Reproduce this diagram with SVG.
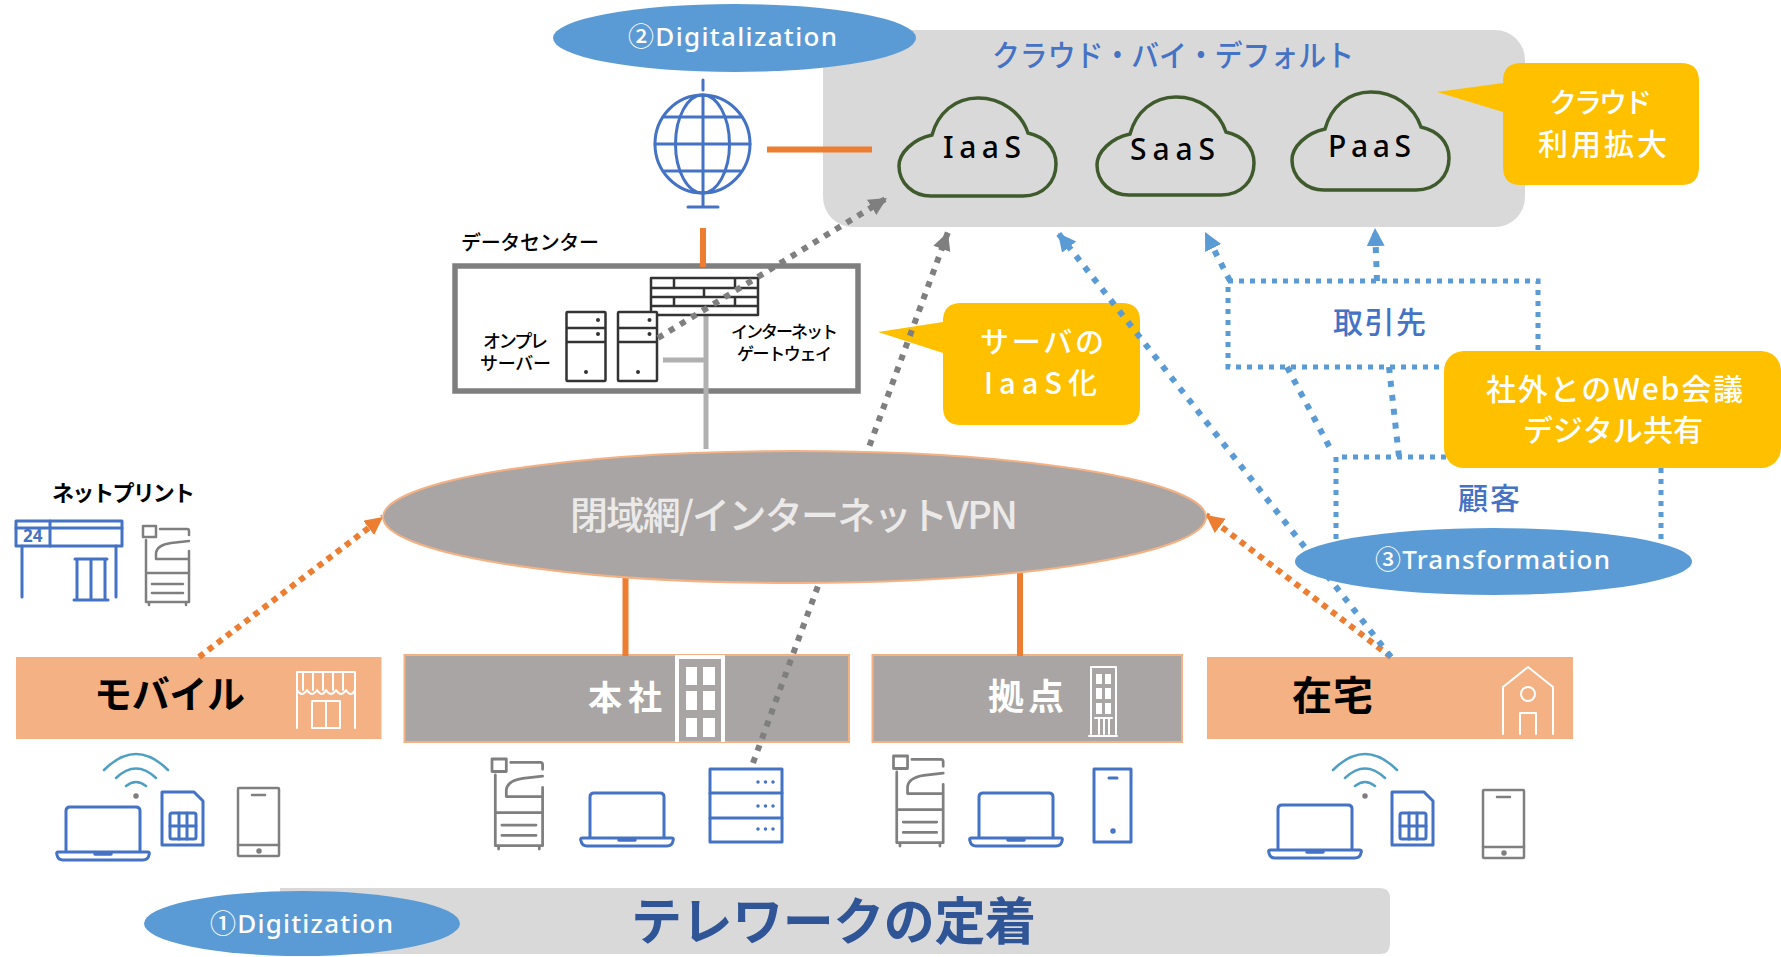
<svg xmlns="http://www.w3.org/2000/svg" xmlns:xlink="http://www.w3.org/1999/xlink" width="1781" height="957" viewBox="0 0 1781 957">
<style>
text{font-family:"Noto Sans CJK JP","Noto Sans",sans-serif;}
.lat{font-family:"Noto Sans","Noto Sans CJK JP",sans-serif;}
.wh{fill:#fff}.bk{fill:#000}.bl{fill:#4472c4}
.b{font-weight:700}.m{font-weight:500}
.ln{fill:none;stroke-linecap:round;stroke-linejoin:round}
.blue{stroke:#4472c4;stroke-width:3}
.gray{stroke:#7f7f7f;stroke-width:2.5}
.white{stroke:#fff;stroke-width:2}
.dk{stroke:#333;stroke-width:2.5;fill:#fff;stroke-linejoin:round}
.cloud{fill:#d9d9d9;stroke:#3f5a2c;stroke-width:3.5}
.cal{fill:#ffc000}
.oval{fill:#5b9bd5}
.bar-o{fill:#f4b183}
.bar-g{fill:#a9a5a4;stroke:#f4b183;stroke-width:2}
.solid-o{stroke:#ed7d31;stroke-width:6;fill:none}
.solid-g{stroke:#b0b0b0;stroke-width:5;fill:none}
.dot-g{stroke:#7f7f7f;stroke-width:6;stroke-dasharray:6 7;fill:none}
.dot-o{stroke:#ed7d31;stroke-width:6;stroke-dasharray:6 5.5;fill:none}
.dot-b{stroke:#5b9bd5;stroke-width:6;stroke-dasharray:6 8;fill:none}
.dot-c{stroke:#5b9bd5;stroke-width:5;stroke-dasharray:5 6;fill:none}
</style>
<defs>
<marker id="ag" markerUnits="userSpaceOnUse" markerWidth="20" markerHeight="20" refX="18" refY="9" orient="auto"><path d="M0 0L18 9L0 18Z" fill="#7f7f7f"/></marker>
<marker id="ao" markerUnits="userSpaceOnUse" markerWidth="20" markerHeight="20" refX="18" refY="9" orient="auto"><path d="M0 0L18 9L0 18Z" fill="#ed7d31"/></marker>
<marker id="ab" markerUnits="userSpaceOnUse" markerWidth="20" markerHeight="20" refX="18" refY="9" orient="auto"><path d="M0 0L18 9L0 18Z" fill="#5b9bd5"/></marker>
<path id="cloudp" d="M32 98H124C145 98 157 83 157 66C157 50 146 39 129 35C122 14 102 0 79 0C56 0 39 15 33 37C14 41 0 55 0 68C0 85 14 98 32 98Z"/>
<g id="laptop" class="ln blue"><path d="M11 45V5Q11 1 15 1H81Q85 1 85 5V45"/><path d="M3 46H93Q95 46 94 49Q93 54 88 54H8Q3 54 2 49Q1 46 3 46Z"/><path d="M40 48H56" stroke-width="3.5"/></g>
<g id="copier" class="ln gray"><rect x="0" y="0" width="13" height="11"/><path d="M17 3H44Q46 3 46 5V9M3 14V76H46V25M46 15L28 17Q14 19 13 27V33H46M3 47H46M9 58H40M9 67H40M6 76V79M43 76V79"/></g>
<g id="wifi" class="ln" style="stroke:#4f9fc4;stroke-width:2.5"><path d="M-32 16Q0 -16 32 16M-20 24Q0 5 20 24M-10 32Q0 24 10 32"/><circle cx="0" cy="42" r="1.5" fill="#7f7f7f" stroke="#7f7f7f"/></g>
<g id="sim" class="ln blue"><path d="M1 1H33L42 10V54H1Z"/><rect x="9" y="22" width="26" height="26" rx="2"/><path d="M9 35H35M18 22V48M26 22V35M26 35V48"/></g>
<g id="phone" class="ln gray"><rect x="0" y="0" width="41" height="68" rx="1"/><path d="M14 7H27M0 57H41"/><circle cx="21" cy="63" r="1.5" fill="#7f7f7f"/></g>
</defs>

<g id="cloud-panel"><rect x="823" y="30" width="702" height="197" rx="30" fill="#d9d9d9"/>
<text x="992" y="66" font-size="30" class="bl m" textLength="362" lengthAdjust="spacingAndGlyphs">クラウド・バイ・デフォルト</text></g>
<g id="iaas"><use xlink:href="#cloudp" href="#cloudp" class="cloud" x="899" y="98"/><text x="943" y="158" font-size="30" class="lat bk m" textLength="78">IaaS</text></g>
<g id="saas"><use xlink:href="#cloudp" href="#cloudp" class="cloud" x="1097" y="97"/><text x="1130" y="160" font-size="30" class="lat bk m" textLength="85">SaaS</text></g>
<g id="paas"><use xlink:href="#cloudp" href="#cloudp" class="cloud" x="1292" y="92"/><text x="1328" y="157" font-size="30" class="lat bk m" textLength="83">PaaS</text></g>

<g id="digitalization"><ellipse cx="734.5" cy="38" rx="181.5" ry="34" class="oval"/><text x="628" y="46" font-size="26" class="lat wh m" textLength="209">②Digitalization</text></g>

<g id="callout-cloud"><path class="cal" d="M1521 63H1681Q1699 63 1699 81V167Q1699 185 1681 185H1521Q1503 185 1503 167V112L1437 92L1503 83V81Q1503 63 1521 63Z"/>
<text x="1549" y="113" font-size="28" class="wh m" textLength="103">クラウド</text><text x="1538" y="155" font-size="30" class="wh m" textLength="129">利用拡大</text></g>

<g id="globe" class="ln blue"><ellipse cx="702.5" cy="144" rx="47.5" ry="49"/><ellipse cx="702.5" cy="144" rx="27" ry="49"/><path d="M703 95V193M655 144H750M664 117H741M664 171H741M703 80V90M703 193V207M688 207H718"/></g>

<g id="datacenter">
<text x="461" y="250" font-size="20" class="bk m" textLength="138">データセンター</text>
<rect x="455" y="266" width="403" height="125" fill="#fff" stroke="#7f7f7f" stroke-width="5.5"/>
<path class="solid-g" d="M706 315V449M663 360H706"/>
<g id="firewall"><rect x="651" y="278" width="107" height="37" class="dk"/><path class="dk" d="M651 288H758M651 297H758M651 306H758M674 278V288M735 278V288M704 288V297M674 297V306M735 297V306"/></g>
<g id="server-a"><rect x="566.5" y="312" width="39" height="69" rx="1" class="dk"/><path class="dk" d="M566.5 328H605.5M566.5 342H605.5"/><circle cx="598" cy="320" r="2" fill="#333"/><circle cx="598" cy="334" r="2" fill="#333"/><circle cx="586" cy="372" r="2" fill="#333"/></g>
<g id="server-b"><rect x="618" y="312" width="39" height="69" rx="1" class="dk"/><path class="dk" d="M618 328H657M618 342H657"/><circle cx="649.500" cy="320" r="2" fill="#333"/><circle cx="649.500" cy="334" r="2" fill="#333"/><circle cx="638" cy="372" r="2" fill="#333"/></g>
<text x="483" y="348" font-size="18" class="bk m" textLength="65">オンプレ</text>
<text x="480" y="370" font-size="18" class="bk m" textLength="71">サーバー</text>
<text x="731" y="338" font-size="17" class="bk m" textLength="107">インターネット</text>
<text x="737" y="360" font-size="17" class="bk m" textLength="95">ゲートウェイ</text>
</g>

<g id="callout-iaas"><path class="cal" d="M961 303H1122Q1140 303 1140 321V407Q1140 425 1122 425H961Q943 425 943 407V353L878 332L943 322V321Q943 303 961 303Z"/>
<text x="980" y="353" font-size="29" class="wh m" textLength="124">サーバの</text><text x="984" y="394" font-size="29" class="wh m" textLength="113">IaaS化</text></g>

<g id="netprint">
<text x="52" y="501" font-size="22" class="bk b" textLength="143">ネットプリント</text>
<g class="ln blue"><rect x="16" y="521" width="106" height="25"/><path d="M16 528H122M50 521V546M22 546V597M116 546V597M75 559H107M77 559V598M91 559V598M105 559V598M74 600H108"/></g>
<text x="23" y="542" font-size="17" class="lat bl b">24</text>
<use xlink:href="#copier" href="#copier" transform="translate(143 526)"/>
</g>

<g id="mobile"><rect x="16" y="657" width="365.500" height="82" class="bar-o"/><text x="94" y="708" font-size="38" class="bk b" textLength="151">モバイル</text>
<g class="ln white"><path d="M297 672H355M297 672V728M355 672V728M297 690Q302 698 307 690Q312 698 317 690Q322 698 326 690Q331 698 336 690Q341 698 346 690Q351 698 355 690M303 672V690M313 672V690M323 672V690M333 672V690M343 672V690M312 701H340V728H312ZM326 701V728"/></g>
<use xlink:href="#laptop" href="#laptop" transform="translate(55 806)"/>
<use xlink:href="#wifi" href="#wifi" transform="translate(136 754)"/>
<use xlink:href="#sim" href="#sim" transform="translate(161 791)"/>
<use xlink:href="#phone" href="#phone" transform="translate(238 788)"/>
</g>

<g id="headoffice"><rect x="404.500" y="655" width="444.500" height="87" class="bar-g"/><text x="588" y="710" font-size="34" class="wh b" textLength="74">本社</text>
<path d="M675 655H725V742H721V659H679V742H675Z" fill="#fff"/>
<g fill="#fff"><rect x="686" y="667" width="11" height="18"/><rect x="703" y="667" width="12" height="18"/><rect x="686" y="691" width="11" height="19"/><rect x="703" y="691" width="12" height="19"/><rect x="686" y="718" width="11" height="19"/><rect x="703" y="718" width="12" height="19"/></g>
<use xlink:href="#copier" href="#copier" transform="translate(492 759) scale(1.1 1.14)"/>
<use xlink:href="#laptop" href="#laptop" transform="translate(579 792)"/>
<g id="rack" class="ln blue"><rect x="710" y="769" width="72" height="73"/><path d="M710 793H782M710 818H782"/><path stroke-dasharray="0 7.500" stroke-width="3.500" d="M758 782H774M758 806H774M758 829H774"/></g>
</g>

<g id="branch"><rect x="872.500" y="655" width="309.500" height="87" class="bar-g"/><text x="988" y="710" font-size="36" class="wh b" textLength="76">拠点</text>
<g class="ln white"><path d="M1091 667H1116V734M1091 667V734M1089 736H1117M1095 718H1112M1099 718V734M1104 718V734M1109 718V734"/></g>
<g fill="#fff"><rect x="1096" y="674" width="6" height="10"/><rect x="1105" y="674" width="6" height="10"/><rect x="1096" y="688" width="6" height="11"/><rect x="1105" y="688" width="6" height="11"/><rect x="1096" y="703" width="6" height="11"/><rect x="1105" y="703" width="6" height="11"/></g>
<use xlink:href="#copier" href="#copier" transform="translate(893.500 756) scale(1.08 1.14)"/>
<use xlink:href="#laptop" href="#laptop" transform="translate(968 792)"/>
<g id="tablet" class="ln blue"><rect x="1094" y="769" width="37" height="73"/><path d="M1109 778H1117"/><circle cx="1113" cy="831" r="1.200"/></g>
</g>

<g id="home"><rect x="1207" y="657" width="366" height="82" class="bar-o"/><text x="1292" y="710" font-size="40" class="bk b" textLength="81">在宅</text>
<g class="ln white"><path d="M1503 734V687L1528 667L1553 687V734M1520 734V713H1536V734"/><circle cx="1528" cy="694" r="7"/></g>
<use xlink:href="#laptop" href="#laptop" transform="translate(1267 804)"/>
<use xlink:href="#wifi" href="#wifi" transform="translate(1365 754)"/>
<use xlink:href="#sim" href="#sim" transform="translate(1391 791)"/>
<use xlink:href="#phone" href="#phone" transform="translate(1483 790)"/>
</g>

<g id="telework"><path d="M280 888H1380Q1390 888 1390 898V944Q1390 954 1380 954H280Z" fill="#d9d9d9"/><text x="631" y="940" font-size="51" class="b" fill="#2f5597" textLength="405">テレワークの定着</text></g>

<text x="1333" y="333" font-size="30" class="bl m" textLength="93">取引先</text>
<text x="1458" y="509" font-size="30" class="bl m" textLength="62">顧客</text>

<g id="connectors">
<path class="solid-o" d="M767 149.500H872M703 228V267M625.500 570V656M1020 570V656"/>
<path class="dot-g" d="M658 338L887 198" marker-end="url(#ag)"/>
<path class="dot-g" d="M753 763L948 232" marker-end="url(#ag)"/>
<path class="dot-o" d="M199 657L383 517" marker-end="url(#ao)"/>
<path class="dot-o" d="M1391 657L1206 515" marker-end="url(#ao)"/>
<path class="dot-b" d="M1391 657L1058 233" marker-end="url(#ab)"/>
<path class="dot-c" d="M1228 281H1538V367H1228Z"/>
<path class="dot-c" d="M1336 550V457H1661V550"/>
<path class="dot-b" d="M1230 281L1205 232" marker-end="url(#ab)"/>
<path class="dot-b" d="M1377 281L1375 228" marker-end="url(#ab)"/>
<path class="dot-b" d="M1287 367L1331 450"/>
<path class="dot-b" d="M1389 367L1399 457"/>
</g>

<g id="vpn"><ellipse cx="794.500" cy="517" rx="411.500" ry="66" fill="#a9a5a4" stroke="#f4b183" stroke-width="2"/><text x="570" y="529" font-size="38" fill="#eceae9" class="m" textLength="448">閉域網/インターネットVPN</text></g>
<g id="callout-web"><rect x="1444" y="351" width="337" height="117" rx="20" class="cal"/><text x="1486" y="400" font-size="30" class="wh m" textLength="257">社外とのWeb会議</text><text x="1523" y="441" font-size="30" class="wh m" textLength="180">デジタル共有</text></g>
<g id="transformation"><ellipse cx="1493.500" cy="561.500" rx="198.500" ry="33.500" class="oval"/><text x="1375" y="569" font-size="26" class="lat wh m" textLength="235">③Transformation</text></g>
<g id="digitization"><ellipse cx="302" cy="923.500" rx="158" ry="32.500" class="oval"/><text x="210" y="933" font-size="26" class="lat wh m" textLength="183">①Digitization</text></g>
</svg>
